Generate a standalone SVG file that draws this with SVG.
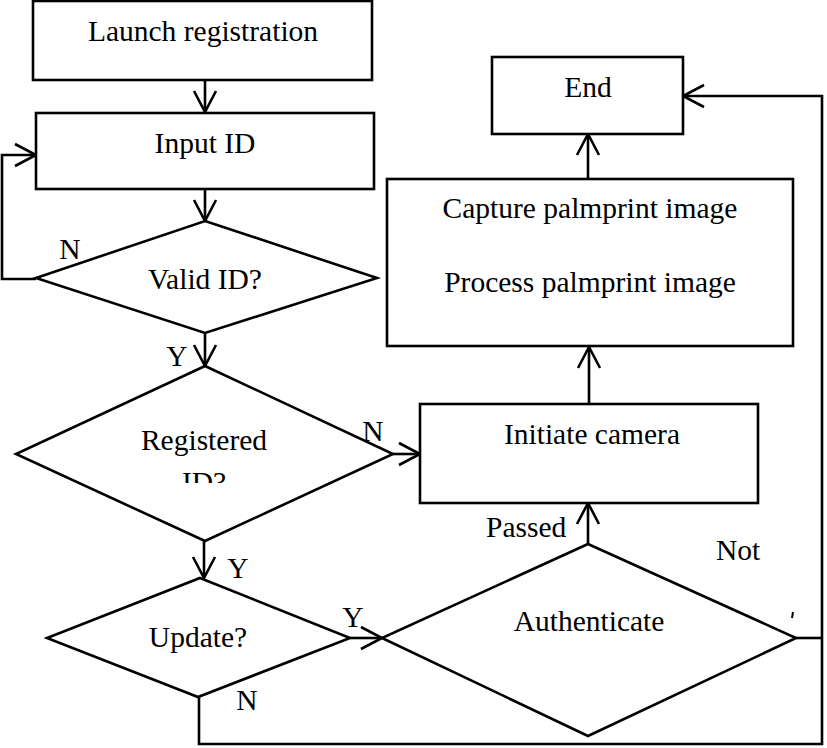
<svg xmlns="http://www.w3.org/2000/svg" width="827" height="748" viewBox="0 0 827 748">
<style>
.box{fill:#fff;stroke:#000;stroke-width:2.6}
.c{fill:none;stroke:#000;stroke-width:2.6}
text{font-family:"Liberation Serif","Times New Roman",serif;font-size:29.5px;fill:#000}
.m{text-anchor:middle}
</style>
<defs>
<marker id="ah" markerUnits="userSpaceOnUse" markerWidth="30" markerHeight="30" viewBox="-25 -15 30 30" refX="0" refY="0" orient="auto">
<path d="M-21,-11 L0,0 L-21,11" fill="none" stroke="#000" stroke-width="2.6"/>
</marker>
<clipPath id="clipReg"><rect x="0" y="0" width="827" height="483"/></clipPath>
</defs>
<rect width="827" height="748" fill="#fff"/>
<g id="connectors">
<line class="c" x1="205" y1="80" x2="205" y2="112" marker-end="url(#ah)"/>
<line class="c" x1="205" y1="189" x2="205" y2="221" marker-end="url(#ah)"/>
<polyline class="c" points="36,279 2,279 2,155 36,155" marker-end="url(#ah)"/>
<line class="c" x1="205" y1="333" x2="205" y2="366" marker-end="url(#ah)"/>
<line class="c" x1="393" y1="454" x2="420" y2="454" marker-end="url(#ah)"/>
<line class="c" x1="204" y1="541" x2="204" y2="578" marker-end="url(#ah)"/>
<line class="c" x1="350" y1="638" x2="382" y2="638" marker-end="url(#ah)"/>
<polyline class="c" points="199,697 199,744 822,744 822,96 683,96" marker-end="url(#ah)"/>
<line class="c" x1="796" y1="638" x2="822" y2="638"/>
<line class="c" x1="588" y1="544" x2="588" y2="503" marker-end="url(#ah)"/>
<line class="c" x1="589" y1="404" x2="589" y2="347" marker-end="url(#ah)"/>
<line class="c" x1="588" y1="179" x2="588" y2="134" marker-end="url(#ah)"/>
<text class="m" x="70" y="259">N</text>
<text class="m" x="177" y="366">Y</text>
<text class="m" x="373" y="441">N</text>
<text class="m" x="238" y="578">Y</text>
<text class="m" x="353" y="627">Y</text>
<text class="m" x="247" y="710">N</text>
<text x="486" y="537">Passed</text>
<text x="716" y="560">Not</text>
<line x1="793" y1="612" x2="792" y2="618" stroke="#000" stroke-width="2"/>
</g>
<g id="launch">
<rect class="box" x="33" y="1" width="339" height="79"/>
<text class="m" x="203" y="41">Launch registration</text>
</g>
<g id="input">
<rect class="box" x="36" y="113" width="338" height="76"/>
<text class="m" x="205" y="153">Input ID</text>
</g>
<g id="valid">
<polygon class="box" points="205,221 377,278 205,333 36,278"/>
<text class="m" x="205" y="289">Valid ID?</text>
</g>
<g id="registered">
<polygon class="box" points="205,366 393,454 205,541 16,454"/>
<text class="m" x="204" y="450">Registered</text>
<text class="m" x="204" y="492" clip-path="url(#clipReg)">ID?</text>
</g>
<g id="update">
<polygon class="box" points="200,578 350,638 198,697 47,638"/>
<text class="m" x="198" y="647">Update?</text>
</g>
<g id="authenticate">
<polygon class="box" points="588,544 796,638 588,736 382,638"/>
<text class="m" x="589" y="631">Authenticate</text>
</g>
<g id="camera">
<rect class="box" x="420" y="404" width="338" height="99"/>
<text class="m" x="592" y="444">Initiate camera</text>
</g>
<g id="capture">
<rect class="box" x="387" y="179" width="406" height="167"/>
<text class="m" x="590" y="218">Capture palmprint image</text>
<text class="m" x="590" y="292">Process palmprint image</text>
</g>
<g id="end">
<rect class="box" x="492" y="57" width="191" height="77"/>
<text class="m" x="588" y="97">End</text>
</g>
</svg>
